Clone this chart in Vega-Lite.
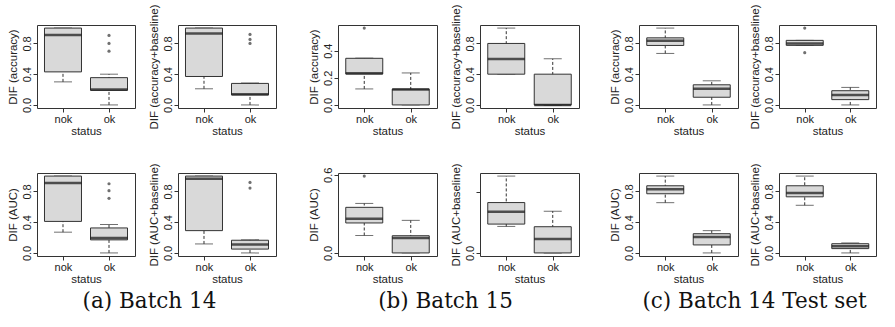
{
 "$schema": "https://vega.github.io/schema/vega-lite/v6.json",
 "padding": {"left": 6, "top": 3, "right": 0, "bottom": 0},
 "background": "white",
 "datasets": {
  "boxes": [
   {"panel": "A1", "status": "nok", "lo": 0.30, "q1": 0.43, "med": 0.91, "q3": 1.0, "hi": 1.0},
   {"panel": "A1", "status": "ok", "lo": 0.0, "q1": 0.19, "med": 0.20, "q3": 0.355, "hi": 0.40},
   {"panel": "A2", "status": "nok", "lo": 0.21, "q1": 0.37, "med": 0.93, "q3": 1.0, "hi": 1.0},
   {"panel": "A2", "status": "ok", "lo": 0.0, "q1": 0.13, "med": 0.14, "q3": 0.28, "hi": 0.285},
   {"panel": "A3", "status": "nok", "lo": 0.27, "q1": 0.41, "med": 0.91, "q3": 1.0, "hi": 1.0},
   {"panel": "A3", "status": "ok", "lo": 0.0, "q1": 0.17, "med": 0.195, "q3": 0.325, "hi": 0.37},
   {"panel": "A4", "status": "nok", "lo": 0.117, "q1": 0.29, "med": 0.965, "q3": 1.0, "hi": 1.0},
   {"panel": "A4", "status": "ok", "lo": 0.0, "q1": 0.05, "med": 0.11, "q3": 0.165, "hi": 0.17},
   {"panel": "B1", "status": "nok", "lo": 0.118, "q1": 0.228, "med": 0.233, "q3": 0.344, "hi": 0.345},
   {"panel": "B1", "status": "ok", "lo": 0.0, "q1": 0.0, "med": 0.113, "q3": 0.117, "hi": 0.236},
   {"panel": "B2", "status": "nok", "lo": 0.4, "q1": 0.4, "med": 0.598, "q3": 0.8, "hi": 1.0},
   {"panel": "B2", "status": "ok", "lo": 0.0, "q1": 0.0, "med": 0.0, "q3": 0.4, "hi": 0.6},
   {"panel": "B3", "status": "nok", "lo": 0.134, "q1": 0.23, "med": 0.263, "q3": 0.35, "hi": 0.38},
   {"panel": "B3", "status": "ok", "lo": 0.0, "q1": 0.0, "med": 0.114, "q3": 0.132, "hi": 0.25},
   {"panel": "B4", "status": "nok", "lo": 0.26, "q1": 0.283, "med": 0.403, "q3": 0.494, "hi": 0.754},
   {"panel": "B4", "status": "ok", "lo": 0.0, "q1": 0.0, "med": 0.137, "q3": 0.257, "hi": 0.41},
   {"panel": "C1", "status": "nok", "lo": 0.67, "q1": 0.774, "med": 0.834, "q3": 0.873, "hi": 1.0},
   {"panel": "C1", "status": "ok", "lo": 0.0, "q1": 0.1, "med": 0.21, "q3": 0.262, "hi": 0.314},
   {"panel": "C2", "status": "nok", "lo": 0.775, "q1": 0.775, "med": 0.80, "q3": 0.84, "hi": 0.84},
   {"panel": "C2", "status": "ok", "lo": 0.0, "q1": 0.069, "med": 0.13, "q3": 0.185, "hi": 0.228},
   {"panel": "C3", "status": "nok", "lo": 0.654, "q1": 0.77, "med": 0.83, "q3": 0.874, "hi": 1.0},
   {"panel": "C3", "status": "ok", "lo": 0.0, "q1": 0.104, "med": 0.208, "q3": 0.25, "hi": 0.29},
   {"panel": "C4", "status": "nok", "lo": 0.62, "q1": 0.73, "med": 0.78, "q3": 0.874, "hi": 1.0},
   {"panel": "C4", "status": "ok", "lo": 0.0, "q1": 0.056, "med": 0.087, "q3": 0.12, "hi": 0.13}
  ],
  "outliers": [
   {"panel": "A1", "status": "ok", "value": 0.904},
   {"panel": "A1", "status": "ok", "value": 0.80},
   {"panel": "A1", "status": "ok", "value": 0.70},
   {"panel": "A2", "status": "ok", "value": 0.917},
   {"panel": "A2", "status": "ok", "value": 0.852},
   {"panel": "A2", "status": "ok", "value": 0.80},
   {"panel": "A3", "status": "ok", "value": 0.90},
   {"panel": "A3", "status": "ok", "value": 0.81},
   {"panel": "A3", "status": "ok", "value": 0.71},
   {"panel": "A4", "status": "ok", "value": 0.918},
   {"panel": "A4", "status": "ok", "value": 0.844},
   {"panel": "B1", "status": "nok", "value": 0.567},
   {"panel": "B3", "status": "nok", "value": 0.59},
   {"panel": "C2", "status": "nok", "value": 1.0},
   {"panel": "C2", "status": "nok", "value": 0.68}
  ]
 },
 "spacing": 28,
 "hconcat": [
  {
   "spacing": 30,
   "hconcat": [
    {
     "title": {"text": "(a) Batch 14", "dx": 8},
     "spacing": 25,
     "vconcat": [
      {"spacing": 11, "hconcat": [
       {"width": 98, "height": 83, "data": {"name": "boxes"}, "transform": [{"filter": "datum.panel==='A1'"}],
        "encoding": {"x": {"field": "status", "type": "nominal", "scale": {"type": "point", "domain": ["nok", "ok"], "padding": 0.565}, "axis": {"title": "status", "labelAngle": 0}}},
        "layer": [
         {"mark": {"type": "rule", "strokeDash": [3, 2], "color": "#333"}, "encoding": {"y": {"field": "lo", "type": "quantitative", "scale": {"domain": [-0.04, 1.04], "nice": false, "zero": false}, "axis": {"title": "DIF (accuracy)", "values": [0, 0.2, 0.4, 0.6, 0.8, 1], "format": ".1f", "labelExpr": "indexof(['0.0','0.4','0.8'], datum.label) >= 0 ? datum.label : ''"}}, "y2": {"field": "hi"}}},
         {"mark": {"type": "tick", "size": 18, "thickness": 1, "color": "#333"}, "encoding": {"y": {"field": "lo", "type": "quantitative"}}},
         {"mark": {"type": "tick", "size": 18, "thickness": 1, "color": "#333"}, "encoding": {"y": {"field": "hi", "type": "quantitative"}}},
         {"mark": {"type": "bar", "width": 37, "fill": "#d9d9d9", "stroke": "#333", "strokeWidth": 1}, "encoding": {"y": {"field": "q1", "type": "quantitative"}, "y2": {"field": "q3"}}},
         {"mark": {"type": "tick", "size": 37, "thickness": 2.5, "color": "#111"}, "encoding": {"y": {"field": "med", "type": "quantitative"}}},
         {"data": {"name": "outliers"}, "transform": [{"filter": "datum.panel==='A1'"}], "mark": {"type": "point", "filled": true, "size": 10, "color": "#333"}, "encoding": {"y": {"field": "value", "type": "quantitative"}}}
        ]},
       {"width": 98, "height": 83, "data": {"name": "boxes"}, "transform": [{"filter": "datum.panel==='A2'"}],
        "encoding": {"x": {"field": "status", "type": "nominal", "scale": {"type": "point", "domain": ["nok", "ok"], "padding": 0.565}, "axis": {"title": "status", "labelAngle": 0}}},
        "layer": [
         {"mark": {"type": "rule", "strokeDash": [3, 2], "color": "#333"}, "encoding": {"y": {"field": "lo", "type": "quantitative", "scale": {"domain": [-0.04, 1.04], "nice": false, "zero": false}, "axis": {"title": "DIF (accuracy+baseline)", "values": [0, 0.2, 0.4, 0.6, 0.8, 1], "format": ".1f", "labelExpr": "indexof(['0.0','0.4','0.8'], datum.label) >= 0 ? datum.label : ''"}}, "y2": {"field": "hi"}}},
         {"mark": {"type": "tick", "size": 18, "thickness": 1, "color": "#333"}, "encoding": {"y": {"field": "lo", "type": "quantitative"}}},
         {"mark": {"type": "tick", "size": 18, "thickness": 1, "color": "#333"}, "encoding": {"y": {"field": "hi", "type": "quantitative"}}},
         {"mark": {"type": "bar", "width": 37, "fill": "#d9d9d9", "stroke": "#333", "strokeWidth": 1}, "encoding": {"y": {"field": "q1", "type": "quantitative"}, "y2": {"field": "q3"}}},
         {"mark": {"type": "tick", "size": 37, "thickness": 2.5, "color": "#111"}, "encoding": {"y": {"field": "med", "type": "quantitative"}}},
         {"data": {"name": "outliers"}, "transform": [{"filter": "datum.panel==='A2'"}], "mark": {"type": "point", "filled": true, "size": 10, "color": "#333"}, "encoding": {"y": {"field": "value", "type": "quantitative"}}}
        ]}
      ]},
      {"spacing": 11, "hconcat": [
       {"width": 98, "height": 83, "data": {"name": "boxes"}, "transform": [{"filter": "datum.panel==='A3'"}],
        "encoding": {"x": {"field": "status", "type": "nominal", "scale": {"type": "point", "domain": ["nok", "ok"], "padding": 0.565}, "axis": {"title": "status", "labelAngle": 0}}},
        "layer": [
         {"mark": {"type": "rule", "strokeDash": [3, 2], "color": "#333"}, "encoding": {"y": {"field": "lo", "type": "quantitative", "scale": {"domain": [-0.04, 1.04], "nice": false, "zero": false}, "axis": {"title": "DIF (AUC)", "values": [0, 0.2, 0.4, 0.6, 0.8, 1], "format": ".1f", "labelExpr": "indexof(['0.0','0.4','0.8'], datum.label) >= 0 ? datum.label : ''"}}, "y2": {"field": "hi"}}},
         {"mark": {"type": "tick", "size": 18, "thickness": 1, "color": "#333"}, "encoding": {"y": {"field": "lo", "type": "quantitative"}}},
         {"mark": {"type": "tick", "size": 18, "thickness": 1, "color": "#333"}, "encoding": {"y": {"field": "hi", "type": "quantitative"}}},
         {"mark": {"type": "bar", "width": 37, "fill": "#d9d9d9", "stroke": "#333", "strokeWidth": 1}, "encoding": {"y": {"field": "q1", "type": "quantitative"}, "y2": {"field": "q3"}}},
         {"mark": {"type": "tick", "size": 37, "thickness": 2.5, "color": "#111"}, "encoding": {"y": {"field": "med", "type": "quantitative"}}},
         {"data": {"name": "outliers"}, "transform": [{"filter": "datum.panel==='A3'"}], "mark": {"type": "point", "filled": true, "size": 10, "color": "#333"}, "encoding": {"y": {"field": "value", "type": "quantitative"}}}
        ]},
       {"width": 98, "height": 83, "data": {"name": "boxes"}, "transform": [{"filter": "datum.panel==='A4'"}],
        "encoding": {"x": {"field": "status", "type": "nominal", "scale": {"type": "point", "domain": ["nok", "ok"], "padding": 0.565}, "axis": {"title": "status", "labelAngle": 0}}},
        "layer": [
         {"mark": {"type": "rule", "strokeDash": [3, 2], "color": "#333"}, "encoding": {"y": {"field": "lo", "type": "quantitative", "scale": {"domain": [-0.04, 1.04], "nice": false, "zero": false}, "axis": {"title": "DIF (AUC+baseline)", "values": [0, 0.2, 0.4, 0.6, 0.8, 1], "format": ".1f", "labelExpr": "indexof(['0.0','0.4','0.8'], datum.label) >= 0 ? datum.label : ''"}}, "y2": {"field": "hi"}}},
         {"mark": {"type": "tick", "size": 18, "thickness": 1, "color": "#333"}, "encoding": {"y": {"field": "lo", "type": "quantitative"}}},
         {"mark": {"type": "tick", "size": 18, "thickness": 1, "color": "#333"}, "encoding": {"y": {"field": "hi", "type": "quantitative"}}},
         {"mark": {"type": "bar", "width": 37, "fill": "#d9d9d9", "stroke": "#333", "strokeWidth": 1}, "encoding": {"y": {"field": "q1", "type": "quantitative"}, "y2": {"field": "q3"}}},
         {"mark": {"type": "tick", "size": 37, "thickness": 2.5, "color": "#111"}, "encoding": {"y": {"field": "med", "type": "quantitative"}}},
         {"data": {"name": "outliers"}, "transform": [{"filter": "datum.panel==='A4'"}], "mark": {"type": "point", "filled": true, "size": 10, "color": "#333"}, "encoding": {"y": {"field": "value", "type": "quantitative"}}}
        ]}
      ]}
     ]
    },
    {
     "title": {"text": "(b) Batch 15", "dx": 2},
     "spacing": 25,
     "vconcat": [
      {"spacing": 11, "hconcat": [
       {"width": 99, "height": 83, "data": {"name": "boxes"}, "transform": [{"filter": "datum.panel==='B1'"}],
        "encoding": {"x": {"field": "status", "type": "nominal", "scale": {"type": "point", "domain": ["nok", "ok"], "padding": 0.565}, "axis": {"title": "status", "labelAngle": 0}}},
        "layer": [
         {"mark": {"type": "rule", "strokeDash": [3, 2], "color": "#333"}, "encoding": {"y": {"field": "lo", "type": "quantitative", "scale": {"domain": [-0.0227, 0.5897], "nice": false, "zero": false}, "axis": {"title": "DIF (accuracy)", "values": [0, 0.1, 0.2, 0.3, 0.4, 0.5], "format": ".1f", "labelExpr": "indexof(['0.0','0.2','0.4'], datum.label) >= 0 ? datum.label : ''"}}, "y2": {"field": "hi"}}},
         {"mark": {"type": "tick", "size": 18, "thickness": 1, "color": "#333"}, "encoding": {"y": {"field": "lo", "type": "quantitative"}}},
         {"mark": {"type": "tick", "size": 18, "thickness": 1, "color": "#333"}, "encoding": {"y": {"field": "hi", "type": "quantitative"}}},
         {"mark": {"type": "bar", "width": 37, "fill": "#d9d9d9", "stroke": "#333", "strokeWidth": 1}, "encoding": {"y": {"field": "q1", "type": "quantitative"}, "y2": {"field": "q3"}}},
         {"mark": {"type": "tick", "size": 37, "thickness": 2.5, "color": "#111"}, "encoding": {"y": {"field": "med", "type": "quantitative"}}},
         {"data": {"name": "outliers"}, "transform": [{"filter": "datum.panel==='B1'"}], "mark": {"type": "point", "filled": true, "size": 10, "color": "#333"}, "encoding": {"y": {"field": "value", "type": "quantitative"}}}
        ]},
       {"width": 99, "height": 83, "data": {"name": "boxes"}, "transform": [{"filter": "datum.panel==='B2'"}],
        "encoding": {"x": {"field": "status", "type": "nominal", "scale": {"type": "point", "domain": ["nok", "ok"], "padding": 0.565}, "axis": {"title": "status", "labelAngle": 0}}},
        "layer": [
         {"mark": {"type": "rule", "strokeDash": [3, 2], "color": "#333"}, "encoding": {"y": {"field": "lo", "type": "quantitative", "scale": {"domain": [-0.04, 1.04], "nice": false, "zero": false}, "axis": {"title": "DIF (accuracy+baseline)", "values": [0, 0.2, 0.4, 0.6, 0.8, 1], "format": ".1f", "labelExpr": "indexof(['0.0','0.4','0.8'], datum.label) >= 0 ? datum.label : ''"}}, "y2": {"field": "hi"}}},
         {"mark": {"type": "tick", "size": 18, "thickness": 1, "color": "#333"}, "encoding": {"y": {"field": "lo", "type": "quantitative"}}},
         {"mark": {"type": "tick", "size": 18, "thickness": 1, "color": "#333"}, "encoding": {"y": {"field": "hi", "type": "quantitative"}}},
         {"mark": {"type": "bar", "width": 37, "fill": "#d9d9d9", "stroke": "#333", "strokeWidth": 1}, "encoding": {"y": {"field": "q1", "type": "quantitative"}, "y2": {"field": "q3"}}},
         {"mark": {"type": "tick", "size": 37, "thickness": 2.5, "color": "#111"}, "encoding": {"y": {"field": "med", "type": "quantitative"}}},
         {"data": {"name": "outliers"}, "transform": [{"filter": "datum.panel==='B2'"}], "mark": {"type": "point", "filled": true, "size": 10, "color": "#333"}, "encoding": {"y": {"field": "value", "type": "quantitative"}}}
        ]}
      ]},
      {"spacing": 11, "hconcat": [
       {"width": 99, "height": 83, "data": {"name": "boxes"}, "transform": [{"filter": "datum.panel==='B3'"}],
        "encoding": {"x": {"field": "status", "type": "nominal", "scale": {"type": "point", "domain": ["nok", "ok"], "padding": 0.565}, "axis": {"title": "status", "labelAngle": 0}}},
        "layer": [
         {"mark": {"type": "rule", "strokeDash": [3, 2], "color": "#333"}, "encoding": {"y": {"field": "lo", "type": "quantitative", "scale": {"domain": [-0.0236, 0.6136], "nice": false, "zero": false}, "axis": {"title": "DIF (AUC)", "values": [0, 0.1, 0.2, 0.3, 0.4, 0.5, 0.6], "format": ".1f", "labelExpr": "indexof(['0.0','0.2','0.4','0.6'], datum.label) >= 0 ? datum.label : ''"}}, "y2": {"field": "hi"}}},
         {"mark": {"type": "tick", "size": 18, "thickness": 1, "color": "#333"}, "encoding": {"y": {"field": "lo", "type": "quantitative"}}},
         {"mark": {"type": "tick", "size": 18, "thickness": 1, "color": "#333"}, "encoding": {"y": {"field": "hi", "type": "quantitative"}}},
         {"mark": {"type": "bar", "width": 37, "fill": "#d9d9d9", "stroke": "#333", "strokeWidth": 1}, "encoding": {"y": {"field": "q1", "type": "quantitative"}, "y2": {"field": "q3"}}},
         {"mark": {"type": "tick", "size": 37, "thickness": 2.5, "color": "#111"}, "encoding": {"y": {"field": "med", "type": "quantitative"}}},
         {"data": {"name": "outliers"}, "transform": [{"filter": "datum.panel==='B3'"}], "mark": {"type": "point", "filled": true, "size": 10, "color": "#333"}, "encoding": {"y": {"field": "value", "type": "quantitative"}}}
        ]},
       {"width": 99, "height": 83, "data": {"name": "boxes"}, "transform": [{"filter": "datum.panel==='B4'"}],
        "encoding": {"x": {"field": "status", "type": "nominal", "scale": {"type": "point", "domain": ["nok", "ok"], "padding": 0.565}, "axis": {"title": "status", "labelAngle": 0}}},
        "layer": [
         {"mark": {"type": "rule", "strokeDash": [3, 2], "color": "#333"}, "encoding": {"y": {"field": "lo", "type": "quantitative", "scale": {"domain": [-0.0302, 0.7842], "nice": false, "zero": false}, "axis": {"title": "DIF (AUC+baseline)", "values": [0, 0.2, 0.4, 0.6], "format": ".1f", "labelExpr": "indexof(['0.0','0.4'], datum.label) >= 0 ? datum.label : ''"}}, "y2": {"field": "hi"}}},
         {"mark": {"type": "tick", "size": 18, "thickness": 1, "color": "#333"}, "encoding": {"y": {"field": "lo", "type": "quantitative"}}},
         {"mark": {"type": "tick", "size": 18, "thickness": 1, "color": "#333"}, "encoding": {"y": {"field": "hi", "type": "quantitative"}}},
         {"mark": {"type": "bar", "width": 37, "fill": "#d9d9d9", "stroke": "#333", "strokeWidth": 1}, "encoding": {"y": {"field": "q1", "type": "quantitative"}, "y2": {"field": "q3"}}},
         {"mark": {"type": "tick", "size": 37, "thickness": 2.5, "color": "#111"}, "encoding": {"y": {"field": "med", "type": "quantitative"}}},
         {"data": {"name": "outliers"}, "transform": [{"filter": "datum.panel==='B4'"}], "mark": {"type": "point", "filled": true, "size": 10, "color": "#333"}, "encoding": {"y": {"field": "value", "type": "quantitative"}}}
        ]}
      ]}
     ]
    }
   ]
  },
  {
   "title": {"text": "(c) Batch 14 Test set", "dx": 12},
   "spacing": 25,
   "vconcat": [
    {"spacing": 9, "hconcat": [
     {"width": 99, "height": 83, "data": {"name": "boxes"}, "transform": [{"filter": "datum.panel==='C1'"}],
      "encoding": {"x": {"field": "status", "type": "nominal", "scale": {"type": "point", "domain": ["nok", "ok"], "padding": 0.565}, "axis": {"title": "status", "labelAngle": 0}}},
      "layer": [
       {"mark": {"type": "rule", "strokeDash": [3, 2], "color": "#333"}, "encoding": {"y": {"field": "lo", "type": "quantitative", "scale": {"domain": [-0.04, 1.04], "nice": false, "zero": false}, "axis": {"title": "DIF (accuracy)", "values": [0, 0.2, 0.4, 0.6, 0.8, 1], "format": ".1f", "labelExpr": "indexof(['0.0','0.4','0.8'], datum.label) >= 0 ? datum.label : ''"}}, "y2": {"field": "hi"}}},
       {"mark": {"type": "tick", "size": 18, "thickness": 1, "color": "#333"}, "encoding": {"y": {"field": "lo", "type": "quantitative"}}},
       {"mark": {"type": "tick", "size": 18, "thickness": 1, "color": "#333"}, "encoding": {"y": {"field": "hi", "type": "quantitative"}}},
       {"mark": {"type": "bar", "width": 37, "fill": "#d9d9d9", "stroke": "#333", "strokeWidth": 1}, "encoding": {"y": {"field": "q1", "type": "quantitative"}, "y2": {"field": "q3"}}},
       {"mark": {"type": "tick", "size": 37, "thickness": 2.5, "color": "#111"}, "encoding": {"y": {"field": "med", "type": "quantitative"}}},
       {"data": {"name": "outliers"}, "transform": [{"filter": "datum.panel==='C1'"}], "mark": {"type": "point", "filled": true, "size": 10, "color": "#333"}, "encoding": {"y": {"field": "value", "type": "quantitative"}}}
      ]},
     {"width": 97, "height": 83, "data": {"name": "boxes"}, "transform": [{"filter": "datum.panel==='C2'"}],
      "encoding": {"x": {"field": "status", "type": "nominal", "scale": {"type": "point", "domain": ["nok", "ok"], "padding": 0.565}, "axis": {"title": "status", "labelAngle": 0}}},
      "layer": [
       {"mark": {"type": "rule", "strokeDash": [3, 2], "color": "#333"}, "encoding": {"y": {"field": "lo", "type": "quantitative", "scale": {"domain": [-0.04, 1.04], "nice": false, "zero": false}, "axis": {"title": "DIF (accuracy+baseline)", "values": [0, 0.2, 0.4, 0.6, 0.8, 1], "format": ".1f", "labelExpr": "indexof(['0.0','0.4','0.8'], datum.label) >= 0 ? datum.label : ''"}}, "y2": {"field": "hi"}}},
       {"mark": {"type": "tick", "size": 18, "thickness": 1, "color": "#333"}, "encoding": {"y": {"field": "lo", "type": "quantitative"}}},
       {"mark": {"type": "tick", "size": 18, "thickness": 1, "color": "#333"}, "encoding": {"y": {"field": "hi", "type": "quantitative"}}},
       {"mark": {"type": "bar", "width": 37, "fill": "#d9d9d9", "stroke": "#333", "strokeWidth": 1}, "encoding": {"y": {"field": "q1", "type": "quantitative"}, "y2": {"field": "q3"}}},
       {"mark": {"type": "tick", "size": 37, "thickness": 2.5, "color": "#111"}, "encoding": {"y": {"field": "med", "type": "quantitative"}}},
       {"data": {"name": "outliers"}, "transform": [{"filter": "datum.panel==='C2'"}], "mark": {"type": "point", "filled": true, "size": 10, "color": "#333"}, "encoding": {"y": {"field": "value", "type": "quantitative"}}}
      ]}
    ]},
    {"spacing": 9, "hconcat": [
     {"width": 99, "height": 83, "data": {"name": "boxes"}, "transform": [{"filter": "datum.panel==='C3'"}],
      "encoding": {"x": {"field": "status", "type": "nominal", "scale": {"type": "point", "domain": ["nok", "ok"], "padding": 0.565}, "axis": {"title": "status", "labelAngle": 0}}},
      "layer": [
       {"mark": {"type": "rule", "strokeDash": [3, 2], "color": "#333"}, "encoding": {"y": {"field": "lo", "type": "quantitative", "scale": {"domain": [-0.04, 1.04], "nice": false, "zero": false}, "axis": {"title": "DIF (AUC)", "values": [0, 0.2, 0.4, 0.6, 0.8, 1], "format": ".1f", "labelExpr": "indexof(['0.0','0.4','0.8'], datum.label) >= 0 ? datum.label : ''"}}, "y2": {"field": "hi"}}},
       {"mark": {"type": "tick", "size": 18, "thickness": 1, "color": "#333"}, "encoding": {"y": {"field": "lo", "type": "quantitative"}}},
       {"mark": {"type": "tick", "size": 18, "thickness": 1, "color": "#333"}, "encoding": {"y": {"field": "hi", "type": "quantitative"}}},
       {"mark": {"type": "bar", "width": 37, "fill": "#d9d9d9", "stroke": "#333", "strokeWidth": 1}, "encoding": {"y": {"field": "q1", "type": "quantitative"}, "y2": {"field": "q3"}}},
       {"mark": {"type": "tick", "size": 37, "thickness": 2.5, "color": "#111"}, "encoding": {"y": {"field": "med", "type": "quantitative"}}},
       {"data": {"name": "outliers"}, "transform": [{"filter": "datum.panel==='C3'"}], "mark": {"type": "point", "filled": true, "size": 10, "color": "#333"}, "encoding": {"y": {"field": "value", "type": "quantitative"}}}
      ]},
     {"width": 97, "height": 83, "data": {"name": "boxes"}, "transform": [{"filter": "datum.panel==='C4'"}],
      "encoding": {"x": {"field": "status", "type": "nominal", "scale": {"type": "point", "domain": ["nok", "ok"], "padding": 0.565}, "axis": {"title": "status", "labelAngle": 0}}},
      "layer": [
       {"mark": {"type": "rule", "strokeDash": [3, 2], "color": "#333"}, "encoding": {"y": {"field": "lo", "type": "quantitative", "scale": {"domain": [-0.04, 1.04], "nice": false, "zero": false}, "axis": {"title": "DIF (AUC+baseline)", "values": [0, 0.2, 0.4, 0.6, 0.8, 1], "format": ".1f", "labelExpr": "indexof(['0.0','0.4','0.8'], datum.label) >= 0 ? datum.label : ''"}}, "y2": {"field": "hi"}}},
       {"mark": {"type": "tick", "size": 18, "thickness": 1, "color": "#333"}, "encoding": {"y": {"field": "lo", "type": "quantitative"}}},
       {"mark": {"type": "tick", "size": 18, "thickness": 1, "color": "#333"}, "encoding": {"y": {"field": "hi", "type": "quantitative"}}},
       {"mark": {"type": "bar", "width": 37, "fill": "#d9d9d9", "stroke": "#333", "strokeWidth": 1}, "encoding": {"y": {"field": "q1", "type": "quantitative"}, "y2": {"field": "q3"}}},
       {"mark": {"type": "tick", "size": 37, "thickness": 2.5, "color": "#111"}, "encoding": {"y": {"field": "med", "type": "quantitative"}}},
       {"data": {"name": "outliers"}, "transform": [{"filter": "datum.panel==='C4'"}], "mark": {"type": "point", "filled": true, "size": 10, "color": "#333"}, "encoding": {"y": {"field": "value", "type": "quantitative"}}}
      ]}
    ]}
   ]
  }
 ],
 "config": {
  "view": {"stroke": "#333", "strokeWidth": 1},
  "axis": {"grid": false, "domain": false, "tickColor": "#333", "tickSize": 4, "labelFont": "Liberation Sans", "titleFont": "Liberation Sans", "titleFontWeight": "normal", "labelColor": "#222", "titleColor": "#222", "labelFontSize": 11, "titleFontSize": 11.5, "labelOverlap": false},
  "axisY": {"labelAngle": -90, "labelAlign": "center", "labelBaseline": "bottom", "labelPadding": 1, "titlePadding": 3},
  "axisX": {"labelPadding": 1, "titlePadding": 1, "labelFontSize": 11},
  "title": {"orient": "bottom", "anchor": "middle", "font": "DejaVu Serif", "fontSize": 21.5, "fontWeight": "normal", "color": "#111", "offset": 6}
 }
}
